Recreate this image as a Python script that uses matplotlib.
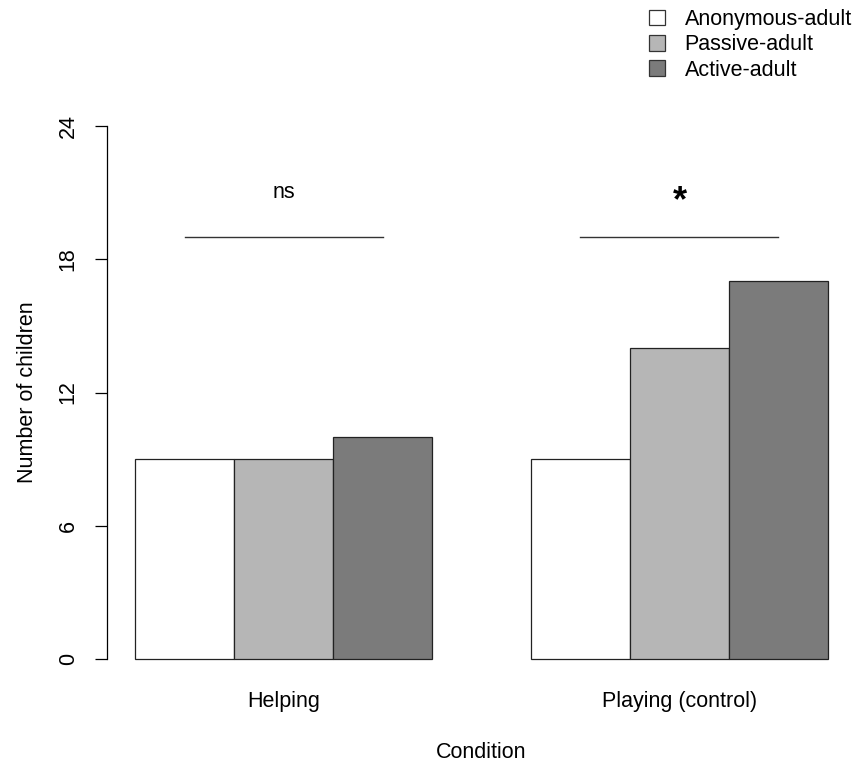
import matplotlib
matplotlib.use("Agg")
import matplotlib.pyplot as plt
from matplotlib.patches import Patch
import numpy as np

plt.rcParams['font.family'] = ['Liberation Sans', 'DejaVu Sans']

conditions = ['Helping', 'Playing (control)']
groups = ['Anonymous-adult', 'Passive-adult', 'Active-adult']
counts = {
    'Anonymous-adult': [9, 9],
    'Passive-adult': [9, 14],
    'Active-adult': [10, 17],
}
colors = ['#ffffff', '#b6b6b6', '#7b7b7b']
sig_labels = ['ns', '*']
sig_height = 19
yticks = [0, 6, 12, 18, 24]

fs = 15.5
fig = plt.figure(figsize=(8.57, 7.61), dpi=100)
W, H = 857, 761
ax = fig.add_axes([107.3 / W, (H - 680.3) / H, (855.7 - 107.3) / W, (680.3 - 104.7) / H])

# R barplot layout: bar width 1, one empty bar between groups
starts = np.array([1, 5])
for i, g in enumerate(groups):
    ax.bar(starts + i, counts[g], width=1, align='edge', color=colors[i],
           edgecolor='#222222', linewidth=0.9, label=g)

for s, lab in zip(starts, sig_labels):
    ax.plot([s + 0.5, s + 2.5], [sig_height, sig_height], color='#333333', lw=1.0)
    if lab == '*':
        ax.text(s + 1.5, 20.6, lab, ha='center', va='center', fontsize=26, fontweight='bold')
    else:
        ax.text(s + 1.5, 21.0, lab, ha='center', va='center', fontsize=fs)

ax.set_xlim(0.72, 8.28)
ax.set_ylim(-0.96, 24.96)
for sp in ['top', 'right', 'bottom']:
    ax.spines[sp].set_visible(False)
ax.spines['left'].set_bounds(0, 24)
ax.spines['left'].set_linewidth(0.9)

ax.set_yticks(yticks)
ax.set_yticklabels([str(v) for v in yticks], rotation=90, va='center', fontsize=fs)
ax.tick_params(axis='y', length=8.6, width=0.9, pad=12)
ax.set_xticks(starts + 1.5)
ax.set_xticklabels(conditions, fontsize=fs)
ax.tick_params(axis='x', length=0, pad=8)
ax.set_xlabel('Condition', fontsize=fs, labelpad=21)
ax.set_ylabel('Number of children', fontsize=fs, labelpad=14)

handles = [Patch(facecolor=c, edgecolor='#333333', linewidth=0.9) for c in colors]
fig.legend(handles, groups, loc='upper left', bbox_to_anchor=(649 / W, 1 - 9 / H),
           bbox_transform=fig.transFigure, frameon=False, fontsize=fs,
           handlelength=0.75, handleheight=0.75, handletextpad=0.9,
           labelspacing=0.2, borderpad=0, borderaxespad=0)

fig.savefig('out.png', dpi=100)
